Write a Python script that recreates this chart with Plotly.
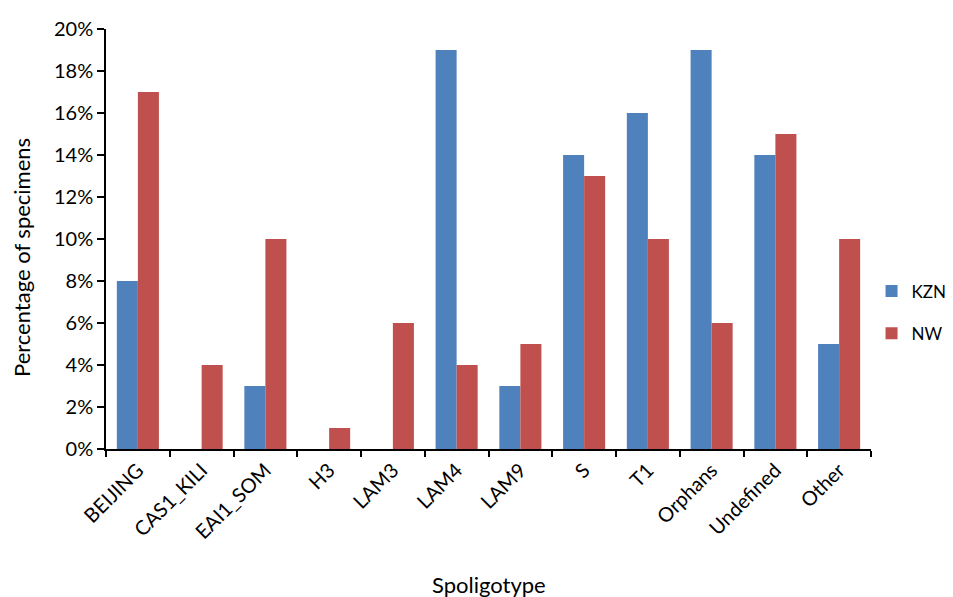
import plotly.graph_objects as go

categories = ["BEIJING", "CAS1_KILI", "EAI1_SOM", "H3", "LAM3", "LAM4", "LAM9", "S", "T1", "Orphans", "Undefined", "Other"]
kzn = [8, 0, 3, 0, 0, 19, 3, 14, 16, 19, 14, 5]
nw = [17, 4, 10, 1, 6, 4, 5, 13, 10, 6, 15, 10]
yticks = [0, 2, 4, 6, 8, 10, 12, 14, 16, 18, 20]

FONT = "Lato, Carlito, Calibri, sans-serif"

fig = go.Figure()
fig.add_trace(go.Bar(x=categories, y=kzn, name="KZN", marker=dict(color="#4F81BD", line=dict(width=0)), legendgroup="a"))
fig.add_trace(go.Bar(x=categories, y=nw, name="NW", marker=dict(color="#C0504D", line=dict(width=0)), legendgroup="b"))

fig.update_layout(
    width=945, height=589,
    margin=dict(l=98, r=82, t=21, b=148),
    paper_bgcolor="white", plot_bgcolor="white",
    barmode="group", bargap=0.34, bargroupgap=0,
    font=dict(family=FONT, size=20, color="black"),
    legend=dict(xref="container", yref="container", x=0.9138, y=0.483,
                xanchor="left", yanchor="middle",
                font=dict(size=17), tracegroupgap=17, itemwidth=30),
    showlegend=True,
    annotations=[
        dict(text="Spoligotype", xref="paper", yref="paper", x=0.5, y=-0.3238,
             xanchor="center", yanchor="middle", showarrow=False, font=dict(size=22)),
        dict(text="Percentage of specimens", xref="paper", yref="paper", x=-0.1098, y=0.4548,
             xanchor="center", yanchor="middle", textangle=-90, showarrow=False, font=dict(size=22)),
    ],
)
fig.update_xaxes(
    type="category", tickson="boundaries", ticks="outside", ticklen=6,
    tickcolor="black", tickwidth=1.5, showline=True, linecolor="black", linewidth=1.5,
    tickangle=-45, tickfont=dict(size=20), automargin=False,
    showgrid=False,
)
fig.update_yaxes(
    range=[0, 20], tickvals=yticks, ticktext=[f"{v}%" for v in yticks],
    ticks="outside", ticklen=7, tickcolor="black", tickwidth=1.5,
    showline=True, linecolor="black", linewidth=1.5, showgrid=False, zeroline=False,
    tickfont=dict(size=20), automargin=False,
)

fig.write_html("out.html")
